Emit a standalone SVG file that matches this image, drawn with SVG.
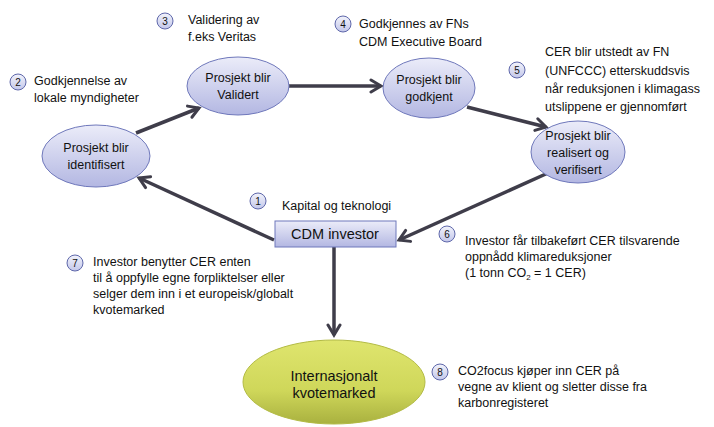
<svg xmlns="http://www.w3.org/2000/svg" width="714" height="427" viewBox="0 0 714 427">
<defs>
<linearGradient id="gBlue" x1="0" y1="0" x2="0" y2="1">
<stop offset="0" stop-color="#ebecf9"/>
<stop offset="1" stop-color="#b3b7e2"/>
</linearGradient>
<linearGradient id="gNum" x1="0" y1="0" x2="0" y2="1">
<stop offset="0" stop-color="#f2f3fb"/>
<stop offset="1" stop-color="#c3c7ea"/>
</linearGradient>
<linearGradient id="gGreen" x1="0" y1="0" x2="0" y2="1">
<stop offset="0" stop-color="#dfe56e"/>
<stop offset="0.6" stop-color="#cfd75a"/>
<stop offset="1" stop-color="#a9b13f"/>
</linearGradient>
<marker id="arr" markerUnits="userSpaceOnUse" markerWidth="16" markerHeight="16" viewBox="-12 -8 14 16" refX="0" refY="0" orient="auto">
<path d="M-10,-6 L0,0 L-10,6" fill="none" stroke="#3f3d4a" stroke-width="3" stroke-linecap="round" stroke-linejoin="miter"/>
</marker>
</defs>
<style>
.node{fill:url(#gBlue);stroke:#6f78bb;stroke-width:1}
.nt{font-family:"Liberation Sans",Arial,sans-serif;font-size:12.5px;fill:#111;text-anchor:middle}
.big{font-family:"Liberation Sans",Arial,sans-serif;font-size:14.5px;fill:#111;text-anchor:middle}
.ann{font-family:"Liberation Sans",Arial,sans-serif;font-size:12.5px;fill:#111}
.num circle{fill:url(#gNum);stroke:#5e67aa;stroke-width:1}
.num text{font-family:"Liberation Sans",Arial,sans-serif;font-size:10px;fill:#111;text-anchor:middle}
.conn line{stroke:#3f3d4a;stroke-width:3.5;marker-end:url(#arr)}
</style>
<rect width="714" height="427" fill="#fff"/>

<g id="connectors" class="conn">
<line x1="136" y1="133" x2="199" y2="108"/>
<line x1="289" y1="86" x2="381" y2="86"/>
<line x1="467" y1="107" x2="546" y2="127"/>
<line x1="548" y1="173" x2="399" y2="240"/>
<line x1="274" y1="240" x2="139" y2="178"/>
<line x1="334" y1="247" x2="334" y2="335"/>
</g>

<g id="n-identifisert">
<ellipse class="node" cx="96" cy="156" rx="54" ry="31"/>
<text class="nt" x="96" y="152">Prosjekt blir</text>
<text class="nt" x="96" y="169">identifisert</text>
</g>
<g id="n-validert">
<ellipse class="node" cx="238" cy="86" rx="51" ry="29"/>
<text class="nt" x="238" y="82">Prosjekt blir</text>
<text class="nt" x="238" y="99">Validert</text>
</g>
<g id="n-godkjent">
<ellipse class="node" cx="429" cy="88" rx="46" ry="30"/>
<text class="nt" x="429" y="84">Prosjekt blir</text>
<text class="nt" x="429" y="101">godkjent</text>
</g>
<g id="n-realisert">
<ellipse class="node" cx="578" cy="152" rx="47" ry="31"/>
<text class="nt" x="578" y="140">Prosjekt blir</text>
<text class="nt" x="578" y="157">realisert og</text>
<text class="nt" x="578" y="174">verifisert</text>
</g>
<g id="n-cdm">
<rect class="node" x="275" y="221" width="121" height="26"/>
<text class="big" x="335" y="239">CDM investor</text>
</g>
<g id="n-kvotemarked">
<ellipse cx="334" cy="382" rx="91" ry="42" fill="url(#gGreen)" stroke="#b3bb45" stroke-width="1"/>
<text class="big" x="334" y="381">Internasjonalt</text>
<text class="big" x="334" y="398">kvotemarked</text>
</g>

<g id="label-1">
<g class="num"><circle cx="258" cy="201" r="8"/><text x="258" y="205">1</text></g>
<text class="ann" x="282" y="210">Kapital og teknologi</text>
</g>
<g id="label-2">
<g class="num"><circle cx="18" cy="82" r="8"/><text x="18" y="86">2</text></g>
<text class="ann" x="34" y="85">Godkjennelse av</text>
<text class="ann" x="34" y="102">lokale myndigheter</text>
</g>
<g id="label-3">
<g class="num"><circle cx="165" cy="21" r="8"/><text x="165" y="25">3</text></g>
<text class="ann" x="188" y="24">Validering av</text>
<text class="ann" x="188" y="41">f.eks Veritas</text>
</g>
<g id="label-4">
<g class="num"><circle cx="343" cy="24" r="8"/><text x="343" y="28">4</text></g>
<text class="ann" x="359" y="28">Godkjennes av FNs</text>
<text class="ann" x="359" y="46">CDM Executive Board</text>
</g>
<g id="label-5">
<g class="num"><circle cx="517" cy="70" r="8"/><text x="517" y="74">5</text></g>
<text class="ann" x="545" y="56">CER blir utstedt av FN</text>
<text class="ann" x="545" y="75">(UNFCCC) etterskuddsvis</text>
<text class="ann" x="545" y="93">når reduksjonen i klimagass</text>
<text class="ann" x="545" y="111">utslippene er gjennomført</text>
</g>
<g id="label-6">
<g class="num"><circle cx="447" cy="234" r="8"/><text x="447" y="238">6</text></g>
<text class="ann" x="465" y="245">Investor får tilbakeført CER tilsvarende</text>
<text class="ann" x="465" y="261">oppnådd klimareduksjoner</text>
<text class="ann" x="465" y="277">(1 tonn CO<tspan font-size="8" dy="3">2</tspan><tspan dy="-3"> = 1 CER)</tspan></text>
</g>
<g id="label-7">
<g class="num"><circle cx="75" cy="263" r="8"/><text x="75" y="267">7</text></g>
<text class="ann" x="93" y="266">Investor benytter CER enten</text>
<text class="ann" x="93" y="282">til å oppfylle egne forpliktelser eller</text>
<text class="ann" x="93" y="298">selger dem inn i et europeisk/globalt</text>
<text class="ann" x="93" y="314">kvotemarked</text>
</g>
<g id="label-8">
<g class="num"><circle cx="440" cy="372" r="8"/><text x="440" y="376">8</text></g>
<text class="ann" x="458" y="375">CO2focus kjøper inn CER på</text>
<text class="ann" x="458" y="391">vegne av klient og sletter disse fra</text>
<text class="ann" x="458" y="407">karbonregisteret</text>
</g>
</svg>
